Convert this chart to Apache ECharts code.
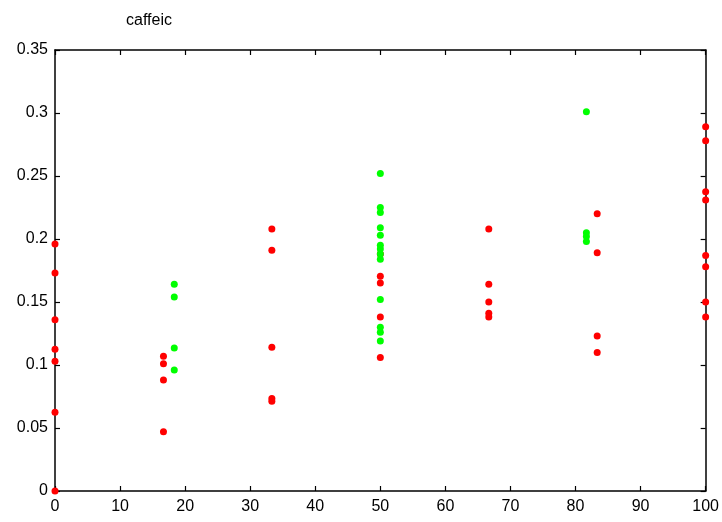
<!DOCTYPE html>
<html>
<head>
<meta charset="utf-8">
<script src="https://cdn.jsdelivr.net/npm/echarts@6/dist/echarts.min.js"></script>
<style>
html,body{margin:0;padding:0;background:#fff;}
#chart{width:722px;height:522px;}
</style>
</head>
<body>
<div id="chart"></div>
<script>
// Caffeic acid measurements per group
const chartTitle = 'caffeic';

// red group: x positions and values
const redX = [0,0,0,0,0,0,0,
  16.67,16.67,16.67,16.67,
  33.33,33.33,33.33,33.33,33.33,
  50,50,50,50,50,
  66.67,66.67,66.67,66.67,66.67,
  83.33,83.33,83.33,83.33,
  100,100,100,100,100,100,100,100];
const redY = [0.196,0.173,0.136,0.1125,0.103,0.0625,0,
  0.107,0.101,0.088,0.047,
  0.208,0.191,0.114,0.0735,0.0712,
  0.188,0.1705,0.165,0.138,0.106,
  0.208,0.164,0.150,0.141,0.138,
  0.220,0.189,0.123,0.110,
  0.289,0.278,0.2375,0.231,0.187,0.178,0.150,0.138];

// green group: x positions and values
const greenX = [18.33,18.33,18.33,18.33,
  50,50,50,50,50,50,50,50,50,50,50,50,50,
  81.67,81.67,81.67,81.67];
const greenY = [0.164,0.154,0.1135,0.096,
  0.252,0.225,0.221,0.209,0.203,0.195,0.192,0.188,0.184,0.152,0.130,0.126,0.119,
  0.301,0.205,0.202,0.198];

const xTicks = {min: 0, max: 100, interval: 10};
const yTicks = {min: 0, max: 0.35, interval: 0.05};

const pairs = (xs, ys) => xs.map((x, i) => [x, ys[i]]);

const fontFamily = 'Liberation Sans, Arial, sans-serif';
const labelFont = {fontFamily: fontFamily, fontSize: 16, color: '#000'};
const lineStyle = {color: '#000', width: 1.5};

function mkAxis(ticks, showLabels, margin, extra) {
  return Object.assign({
    type: 'value',
    min: ticks.min, max: ticks.max, interval: ticks.interval,
    axisLine: {show: true, onZero: false, lineStyle: lineStyle},
    axisTick: {show: true, inside: true, length: 5, lineStyle: {color: '#000', width: 1.2}},
    axisLabel: Object.assign({show: showLabels, margin: margin}, labelFont),
    splitLine: {show: false}
  }, extra || {});
}

const chart = echarts.init(document.getElementById('chart'), null, {renderer: 'canvas'});
chart.setOption({
  animation: false,
  backgroundColor: '#fff',
  title: {
    text: chartTitle,
    left: 144, top: 8, textAlign: 'center',
    textStyle: {fontFamily: fontFamily, fontSize: 16, fontWeight: 'normal', color: '#000'}
  },
  grid: {left: 55, right: 15, top: 50, bottom: 31, containLabel: false},
  xAxis: [
    mkAxis(xTicks, true, 8, {position: 'bottom'}),
    mkAxis(xTicks, false, 8, {position: 'top'})
  ],
  yAxis: [
    mkAxis(yTicks, true, 7, {position: 'left'}),
    mkAxis(yTicks, false, 7, {position: 'right'})
  ],
  series: [
    {
      type: 'scatter', xAxisIndex: 0, yAxisIndex: 0,
      data: pairs(redX, redY),
      symbol: 'circle', symbolSize: 7, clip: false,
      itemStyle: {color: '#ff0000', opacity: 1}
    },
    {
      type: 'scatter', xAxisIndex: 0, yAxisIndex: 0,
      data: pairs(greenX, greenY),
      symbol: 'circle', symbolSize: 7, clip: false,
      itemStyle: {color: '#00ff00', opacity: 1}
    }
  ]
});
</script>
</body>
</html>
